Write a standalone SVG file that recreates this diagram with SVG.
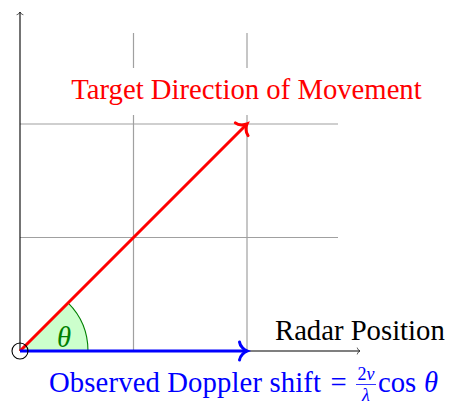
<svg xmlns="http://www.w3.org/2000/svg" width="449" height="405" viewBox="0 0 449 405">
  <defs>
    <style>
      .grid { stroke: #a0a0a0; stroke-width: 1.2; fill: none; }
      .axis { stroke: #000; stroke-width: 1.1; fill: none; }
      .txt { font-family: "Liberation Serif", "Times New Roman", serif; font-size: 28.7px; }
      .it { font-style: italic; }
      .frac { font-size: 18px; }
    </style>
    <marker id="ahAxis" markerUnits="userSpaceOnUse" markerWidth="12" markerHeight="12" refX="0" refY="0" orient="auto" overflow="visible" viewBox="-10 -10 20 20">
      <path d="M -4.5,-5 C -4,-2.5 -1.5,-0.6 0,0 C -1.5,0.6 -4,2.5 -4.5,5" fill="none" stroke="#000" stroke-width="1.1" stroke-linecap="round"/>
    </marker>
    <marker id="ahRed" markerUnits="userSpaceOnUse" markerWidth="24" markerHeight="24" refX="0" refY="0" orient="auto" overflow="visible" viewBox="-12 -12 24 24">
      <path d="M -7.5,-9 C -7,-4.5 -2.5,-1 0,0 C -2.5,1 -7,4.5 -7.5,9" fill="none" stroke="#ff0000" stroke-width="3" stroke-linecap="round"/>
    </marker>
    <marker id="ahBlue" markerUnits="userSpaceOnUse" markerWidth="24" markerHeight="24" refX="0" refY="0" orient="auto" overflow="visible" viewBox="-12 -12 24 24">
      <path d="M -7.5,-9 C -7,-4.5 -2.5,-1 0,0 C -2.5,1 -7,4.5 -7.5,9" fill="none" stroke="#0000ff" stroke-width="3" stroke-linecap="round"/>
    </marker>
  </defs>

  <g id="grid">
    <line class="grid" x1="133.5" y1="33" x2="133.5" y2="351"/>
    <line class="grid" x1="247" y1="33" x2="247" y2="351"/>
    <line class="grid" x1="20" y1="237.5" x2="338" y2="237.5"/>
    <line class="grid" x1="20" y1="124" x2="338" y2="124"/>
  </g>

  <g id="angle">
    <path d="M 20,351 L 88,351 A 68,68 0 0 0 68.08,302.92 Z" fill="#ccffcc" stroke="none"/>
    <path d="M 88,351 A 68,68 0 0 0 68.08,302.92" fill="none" stroke="#008000" stroke-width="1.1"/>
    <text class="txt it" x="64" y="347" text-anchor="middle" fill="#008000">θ</text>
  </g>

  <g id="connectors">
    <line class="axis" x1="20" y1="351" x2="20" y2="12" marker-end="url(#ahAxis)"/>
    <line class="axis" x1="20" y1="351" x2="360" y2="351" marker-end="url(#ahAxis)"/>
    <line x1="20" y1="351" x2="247" y2="124" stroke="#ff0000" stroke-width="3" marker-end="url(#ahRed)"/>
    <line x1="20" y1="351" x2="247" y2="351" stroke="#0000ff" stroke-width="3" marker-end="url(#ahBlue)"/>
  </g>

  <g id="origin">
    <circle cx="20" cy="351" r="8" fill="none" stroke="#000" stroke-width="1.1"/>
  </g>

  <g id="target-label">
    <rect x="67" y="68" width="359" height="47" fill="#fff"/>
    <text class="txt" x="246.5" y="99" text-anchor="middle" fill="#ff0000">Target Direction of Movement</text>
  </g>

  <g id="radar-label">
    <text class="txt" x="275" y="340" fill="#000">Radar Position</text>
  </g>

  <g id="doppler-label" fill="#0000ff">
    <text class="txt" x="49" y="392" textLength="272" lengthAdjust="spacing">Observed Doppler shift</text>
    <text class="txt" x="338.5" y="392" text-anchor="middle">=</text>
    <text class="txt frac" x="366" y="380" text-anchor="middle">2<tspan class="it">v</tspan></text>
    <line x1="356" y1="384.5" x2="376" y2="384.5" stroke="#0000ff" stroke-width="0.8"/>
    <text class="txt it frac" x="366" y="401" text-anchor="middle">λ</text>
    <text class="txt" x="378" y="392">cos</text>
    <text class="txt it" x="431" y="392" text-anchor="middle">θ</text>
  </g>
</svg>
